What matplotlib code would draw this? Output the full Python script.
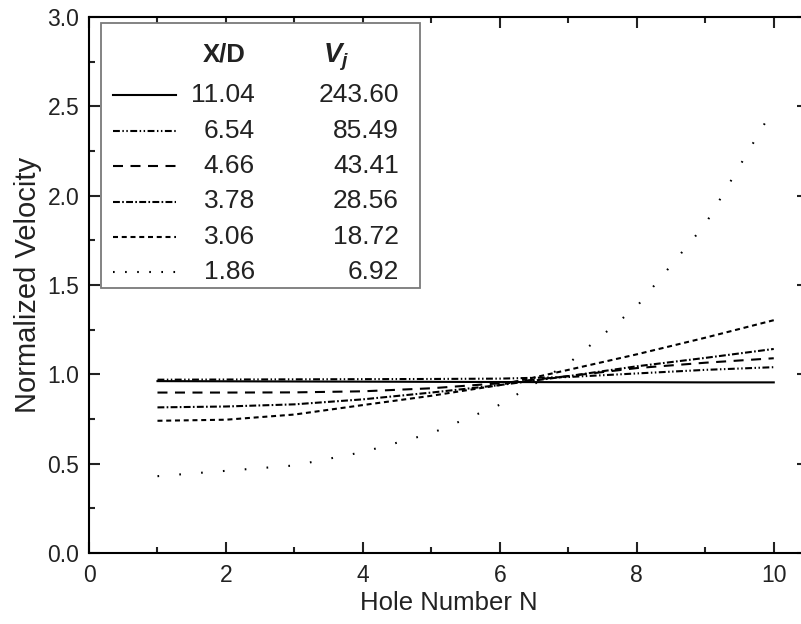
import matplotlib
matplotlib.use("Agg")
import matplotlib.pyplot as plt
from matplotlib.lines import Line2D
from matplotlib.patches import Rectangle
from matplotlib.ticker import MultipleLocator, FormatStrFormatter

plt.rcParams['font.family'] = ['Liberation Sans', 'DejaVu Sans']
plt.rcParams['mathtext.fontset'] = 'custom'
plt.rcParams['mathtext.it'] = 'Liberation Sans:italic:bold'
plt.rcParams['mathtext.rm'] = 'Liberation Sans:bold'

hole = [1, 2, 3, 4, 5, 6, 7, 8, 9, 10]
xd_labels = ['11.04', '6.54', '4.66', '3.78', '3.06', '1.86']
vj_labels = ['243.60', '85.49', '43.41', '28.56', '18.72', '6.92']

v_1104 = [0.962, 0.961, 0.960, 0.959, 0.958, 0.957, 0.956, 0.956, 0.955, 0.955]
v_654 = [0.970, 0.971, 0.972, 0.973, 0.974, 0.976, 0.985, 1.005, 1.025, 1.040]
v_466 = [0.898, 0.898, 0.899, 0.905, 0.922, 0.950, 0.990, 1.035, 1.065, 1.090]
v_378 = [0.815, 0.820, 0.832, 0.860, 0.898, 0.940, 0.990, 1.045, 1.092, 1.142]
v_306 = [0.740, 0.746, 0.775, 0.828, 0.880, 0.940, 1.025, 1.112, 1.205, 1.303]
v_186 = [0.430, 0.460, 0.490, 0.565, 0.670, 0.830, 1.060, 1.380, 1.840, 2.490]

series = [v_1104, v_654, v_466, v_378, v_306, v_186]
styles = ['-',
          (0, (3.3, 1.2, 0.7, 1.2, 0.7, 1.2)),
          (0, (4.8, 3.6)),
          (0, (3.3, 1.1, 0.8, 1.1)),
          (0, (2.4, 1.8)),
          (0, (0.8, 9.7))]
legend_styles = styles[:5] + [(0, (0.8, 5.0))]

fig = plt.figure(figsize=(8.01, 6.24), dpi=100)
ax = fig.add_axes([89/801, 71/624, 719/801, 536/624])

for vals, ls in zip(series, styles):
    ax.plot(hole, vals, color='black', lw=1.5, linestyle=ls)

ax.set_xlim(0, 10.5)
ax.set_ylim(0, 3.0)
ax.xaxis.set_major_locator(MultipleLocator(2))
ax.xaxis.set_minor_locator(MultipleLocator(1))
ax.yaxis.set_major_locator(MultipleLocator(0.5))
ax.yaxis.set_minor_locator(MultipleLocator(0.25))
ax.yaxis.set_major_formatter(FormatStrFormatter('%.1f'))
ax.tick_params(which='both', direction='in', top=True, right=True, width=1.5,
               labelsize=16.5, colors='#222222')
ax.tick_params(which='major', length=8)
ax.tick_params(axis='x', which='major', pad=8)
ax.tick_params(axis='y', which='major', pad=7)
ax.tick_params(which='minor', length=4.5)
for s in ax.spines.values():
    s.set_linewidth(1.5)
ax.set_xlabel('Hole Number N', fontsize=18.5, color='#222222', labelpad=3)
ax.set_ylabel('Normalized Velocity', fontsize=21, color='#222222', labelpad=4)

# legend table (axes-fraction layout)
def fx(px):
    return (px - 89) / 719
def fy(py):
    return (553 - py) / 536

ax.add_patch(Rectangle((fx(101), fy(288)), fx(420) - fx(101), fy(23) - fy(288),
                       transform=ax.transAxes, fill=True, facecolor='white',
                       edgecolor='#7a7a7a', lw=1.3, zorder=5))
ax.text(fx(224), fy(55), 'X/D', transform=ax.transAxes, ha='center', va='center',
        fontsize=18.5, fontweight='bold', color='#222222', zorder=6)
ax.text(fx(336), fy(57), r'$V_j$', transform=ax.transAxes, ha='center', va='center',
        fontsize=20, color='#222222', zorder=6)
row_y = [95, 130.5, 166, 201.5, 237, 272]
for ry, ls, a, b in zip(row_y, legend_styles, xd_labels, vj_labels):
    ax.add_line(Line2D([fx(113), fx(176)], [fy(ry), fy(ry)], transform=ax.transAxes,
                       color='black', lw=1.5, linestyle=ls, zorder=6))
    ax.text(fx(255), fy(ry), a, transform=ax.transAxes, ha='right', va='center',
            fontsize=19, color='#222222', zorder=6)
    ax.text(fx(399), fy(ry), b, transform=ax.transAxes, ha='right', va='center',
            fontsize=19, color='#222222', zorder=6)

fig.savefig('out.png', dpi=100)
